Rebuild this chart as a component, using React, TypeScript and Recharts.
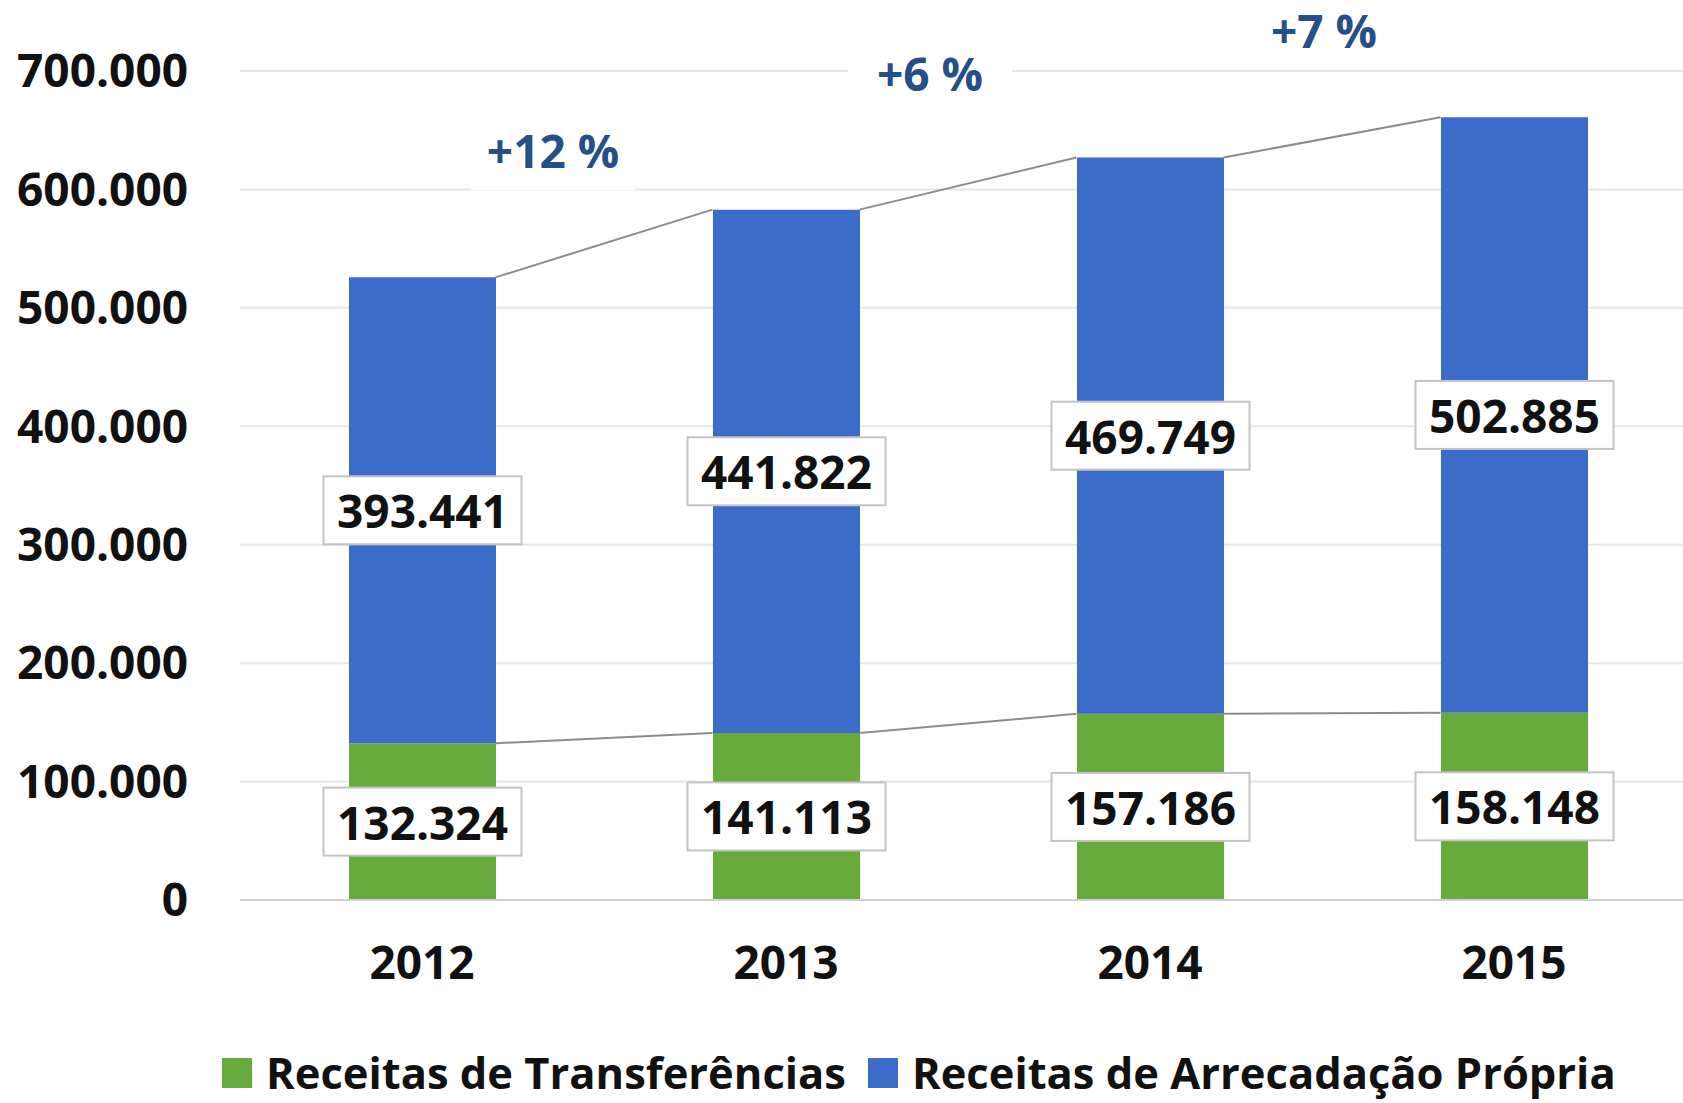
import * as React from 'react'
import {
  BarChart,
  Bar,
  XAxis,
  YAxis,
  CartesianGrid,
  Legend,
  LabelList,
  ReferenceLine,
  ReferenceDot,
} from 'recharts'

const years = ['2012', '2013', '2014', '2015']
const transferencias = [132324, 141113, 157186, 158148]
const arrecadacao = [393441, 441822, 469749, 502885]
const yTicks = [0, 100000, 200000, 300000, 400000, 500000, 600000, 700000]

// growth of the total between consecutive years, with where the note sits
const growthLabels = ['+12 %', '+6 %', '+7 %']
const growthLevel = [633000, 698000, 735000]
const growthShift = [131, 144, 174]

const GREEN = '#68ab3d'
const BLUE = '#3c6cca'
const FONT = '"Open Sans", sans-serif'
const BAR = 147

const data = years.map((year, i) => ({
  year,
  transf: transferencias[i],
  arrec: arrecadacao[i],
  total: transferencias[i] + arrecadacao[i],
}))

const fmt = (v: number) => String(v).replace(/\B(?=(\d{3})+(?!\d))/g, '.')

const BoxLabel = (props: any) => {
  const { x, y, width, height, value } = props
  const cx = x + width / 2
  const cy = y + height / 2
  return (
    <g>
      <rect
        x={cx - 99}
        y={cy - 34}
        width={198}
        height={68}
        fill="#fff"
        stroke="#c4c4c4"
        strokeWidth={2}
      />
      <text
        x={cx}
        y={cy}
        textAnchor="middle"
        dominantBaseline="central"
        fontFamily={FONT}
        fontWeight={700}
        fontSize={46}
        fill="#111"
      >
        {fmt(value)}
      </text>
    </g>
  )
}

// connector from the right edge of one bar to the left edge of the next
const Connector = (props: any) => {
  const { x1, y1, x2, y2 } = props
  return (
    <line
      x1={x1 + BAR / 2}
      y1={y1}
      x2={x2 - BAR / 2}
      y2={y2}
      stroke="#8c8c8c"
      strokeWidth={2}
    />
  )
}

const GrowthNote = (text: string, shift: number) => (props: any) => {
  const cx = props.cx + shift
  const { cy } = props
  return (
    <g>
      <rect x={cx - 82} y={cy - 40} width={164} height={80} fill="#fff" />
      <text
        x={cx}
        y={cy}
        textAnchor="middle"
        dominantBaseline="central"
        fontFamily={FONT}
        fontWeight={700}
        fontSize={46}
        fill="#244f88"
      >
        {text}
      </text>
    </g>
  )
}

const LegendContent = () => (
  <div
    style={{
      height: 60,
      display: 'flex',
      alignItems: 'center',
      paddingLeft: 222,
      fontFamily: FONT,
      fontWeight: 700,
      fontSize: 43.5,
      lineHeight: '44px',
      color: '#111',
      whiteSpace: 'nowrap',
    }}
  >
    {[
      { name: 'Receitas de Transferências', color: GREEN },
      { name: 'Receitas de Arrecadação Própria', color: BLUE },
    ].map((item) => (
      <span key={item.name} style={{ display: 'flex', alignItems: 'center', marginRight: 22 }}>
        <span
          style={{ width: 30, height: 30, background: item.color, display: 'inline-block', marginRight: 14 }}
        />
        {item.name}
      </span>
    ))}
  </div>
)

export default function App() {
  return (
    <div
      style={{
        position: 'absolute',
        left: 0,
        top: 0,
        width: 1683,
        height: 1103,
        overflow: 'hidden',
        background: '#fff',
      }}
    >
      <BarChart
        width={1700}
        height={1103}
        data={data}
        margin={{ top: 71, right: 4, bottom: 0, left: 0 }}
        barSize={BAR}
      >
        <CartesianGrid vertical={false} stroke="#e6e6e6" strokeWidth={2} />
        <XAxis
          dataKey="year"
          height={143}
          tickSize={0}
          tickMargin={46}
          axisLine={{ stroke: '#cfcfcf', strokeWidth: 2 }}
          tick={{ fontFamily: FONT, fontWeight: 700, fontSize: 46, fill: '#111' }}
        />
        <YAxis
          width={240}
          domain={[0, 700000]}
          ticks={yTicks}
          tickFormatter={fmt}
          axisLine={false}
          tickLine={false}
          tickSize={0}
          tickMargin={52}
          tick={{ fontFamily: FONT, fontWeight: 700, fontSize: 46, fill: '#111' }}
        />
        <Legend verticalAlign="bottom" content={<LegendContent />} />
        <Bar dataKey="transf" stackId="a" fill={GREEN} isAnimationActive={false} name="Receitas de Transferências">
          <LabelList dataKey="transf" content={BoxLabel} />
        </Bar>
        <Bar dataKey="arrec" stackId="a" fill={BLUE} isAnimationActive={false} name="Receitas de Arrecadação Própria">
          <LabelList dataKey="arrec" content={BoxLabel} />
        </Bar>
        {data.slice(0, -1).map((d, i) => (
          <ReferenceLine
            key={'t' + i}
            segment={[
              { x: d.year, y: d.total },
              { x: data[i + 1].year, y: data[i + 1].total },
            ]}
            shape={Connector}
          />
        ))}
        {data.slice(0, -1).map((d, i) => (
          <ReferenceLine
            key={'g' + i}
            segment={[
              { x: d.year, y: d.transf },
              { x: data[i + 1].year, y: data[i + 1].transf },
            ]}
            shape={Connector}
          />
        ))}
        {growthLabels.map((g, i) => (
          <ReferenceDot
            key={g}
            x={years[i]}
            y={growthLevel[i]}
            ifOverflow="visible"
            shape={GrowthNote(g, growthShift[i])}
          />
        ))}
      </BarChart>
    </div>
  )
}
